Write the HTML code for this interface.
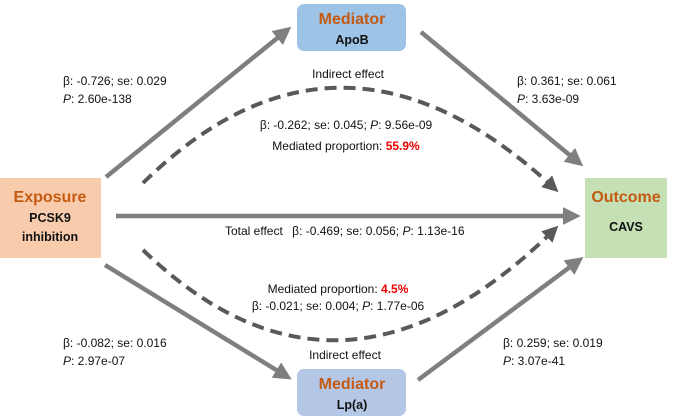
<!DOCTYPE html>
<html><head><meta charset="utf-8"><style>
html,body{margin:0;padding:0;background:#fff;}
svg{display:block;font-family:"Liberation Sans",sans-serif;}
text{font-size:12px;fill:#111;}
.t{font-size:16px;fill:#c55a11;font-weight:bold;}
.b{font-size:12.5px;font-weight:bold;}
.r{fill:#e00;font-weight:bold;}
</style></head><body>
<svg width="685" height="419" viewBox="0 0 685 419">
<defs>
<marker id="ah" markerWidth="4" markerHeight="4" refX="2.5" refY="2" orient="auto" markerUnits="strokeWidth"><path d="M0,0 L4,2 L0,4 z" fill="#7f7f7f"/></marker>
<marker id="ah2" markerWidth="4" markerHeight="4" refX="2.5" refY="2" orient="auto" markerUnits="strokeWidth"><path d="M0,0 L4,2 L0,4 z" fill="#595959"/></marker>
</defs>
<g stroke="#7f7f7f" stroke-width="4.5" fill="none" marker-end="url(#ah)">
<line x1="106" y1="177" x2="286" y2="31"/>
<line x1="421" y1="32" x2="578" y2="162"/>
<line x1="116" y1="216" x2="574" y2="216"/>
<line x1="105" y1="265" x2="286" y2="376"/>
<line x1="418" y1="380" x2="578" y2="261"/>
</g>
<g stroke="#595959" stroke-width="4" fill="none" stroke-dasharray="12,7" marker-end="url(#ah2)">
<path d="M143,183 Q340,-10 554,188"/>
<path d="M143,250 Q340,440 554,230"/>
</g>
<g>
<rect x="297" y="4" width="109" height="47" rx="7" fill="#9dc3e6"/>
<text class="t" x="352" y="24" text-anchor="middle">Mediator</text>
<text class="b" x="352" y="44" text-anchor="middle">ApoB</text>
</g>
<g>
<rect x="297" y="369" width="109" height="47" rx="7" fill="#b4c7e7"/>
<text class="t" x="352" y="389" text-anchor="middle">Mediator</text>
<text class="b" x="352" y="409" text-anchor="middle">Lp(a)</text>
</g>
<g>
<rect x="0" y="178" width="101" height="80" fill="#f8cbad"/>
<text class="t" x="50" y="202" text-anchor="middle">Exposure</text>
<text class="b" x="50" y="222" text-anchor="middle">PCSK9</text>
<text class="b" x="50" y="241" text-anchor="middle">inhibition</text>
</g>
<g>
<rect x="585" y="178" width="82" height="80" fill="#c5e0b4"/>
<text class="t" x="626" y="202" text-anchor="middle">Outcome</text>
<text class="b" x="626" y="231" text-anchor="middle">CAVS</text>
</g>
<text x="63" y="85">β: -0.726; se: 0.029</text>
<text x="63" y="103"><tspan font-style="italic">P</tspan>: 2.60e-138</text>
<text x="517" y="85">β: 0.361; se: 0.061</text>
<text x="517" y="103"><tspan font-style="italic">P</tspan>: 3.63e-09</text>
<text x="348" y="78" text-anchor="middle">Indirect effect</text>
<text x="346" y="129" text-anchor="middle">β: -0.262; se: 0.045; <tspan font-style="italic">P</tspan>: 9.56e-09</text>
<text x="346" y="150" text-anchor="middle">Mediated proportion: <tspan class="r">55.9%</tspan></text>
<text x="225" y="235">Total effect <tspan dx="6">β: -0.469; se: 0.056; </tspan><tspan font-style="italic">P</tspan>: 1.13e-16</text>
<text x="338" y="293" text-anchor="middle">Mediated proportion: <tspan class="r">4.5%</tspan></text>
<text x="338" y="310" text-anchor="middle">β: -0.021; se: 0.004; <tspan font-style="italic">P</tspan>: 1.77e-06</text>
<text x="63" y="347">β: -0.082; se: 0.016</text>
<text x="63" y="365"><tspan font-style="italic">P</tspan>: 2.97e-07</text>
<text x="503" y="347">β: 0.259; se: 0.019</text>
<text x="503" y="365"><tspan font-style="italic">P</tspan>: 3.07e-41</text>
<text x="345" y="359" text-anchor="middle">Indirect effect</text>
</svg>
</body></html>
